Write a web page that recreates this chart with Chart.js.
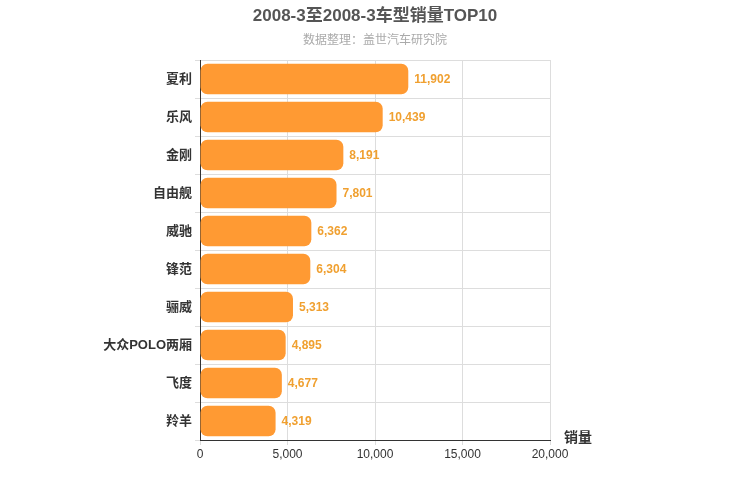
<!DOCTYPE html>
<html>
<head>
<meta charset="utf-8">
<script src="https://cdn.jsdelivr.net/npm/chart.js@4"></script>
<style>
  body { margin: 0; background: #fff; }
  #wrap { width: 750px; height: 500px; }
</style>
</head>
<body>
<div id="wrap"><canvas id="chart"></canvas></div>
<script>
const models = ['夏利', '乐风', '金刚', '自由舰', '威驰', '锋范', '骊威', '大众POLO两厢', '飞度', '羚羊'];
const sales = [11902, 10439, 8191, 7801, 6362, 6304, 5313, 4895, 4677, 4319];
const xTicks = [0, 5000, 10000, 15000, 20000];

const fontFamily = '"Helvetica Neue", Arial, "Noto Sans CJK SC", sans-serif';

// Titles centred on the canvas, value labels and axis name
const extras = {
    id: 'extras',
    afterDraw(chart) {
        const ctx = chart.ctx;
        const meta = chart.getDatasetMeta(0);
        ctx.save();
        ctx.textBaseline = 'middle';
        ctx.textAlign = 'center';
        ctx.font = 'bold 17px ' + fontFamily;
        ctx.fillStyle = '#555';
        ctx.fillText('2008-3至2008-3车型销量TOP10', chart.width / 2, 16);
        ctx.font = '12px ' + fontFamily;
        ctx.fillStyle = '#aaa';
        ctx.fillText('数据整理：盖世汽车研究院', chart.width / 2, 41);

        ctx.textAlign = 'left';
        ctx.font = 'bold 12px ' + fontFamily;
        ctx.fillStyle = '#f0a030';
        meta.data.forEach((bar, i) => {
            ctx.fillText(sales[i].toLocaleString('en-US'), bar.x + 6, bar.y + 1);
        });
        ctx.font = 'bold 14px ' + fontFamily;
        ctx.fillStyle = '#333';
        ctx.fillText('销量', chart.chartArea.right + 14, chart.chartArea.bottom - 2);
        ctx.restore();
    }
};

new Chart(document.getElementById('chart'), {
    type: 'bar',
    data: {
        labels: models,
        datasets: [{
            data: sales,
            backgroundColor: '#ff9a33',
            borderRadius: 7,
            borderSkipped: false,
            barPercentage: 0.8,
            categoryPercentage: 1
        }]
    },
    options: {
        indexAxis: 'y',
        responsive: true,
        maintainAspectRatio: false,
        animation: false,
        layout: { padding: { left: 0, right: 200, top: 60, bottom: 0 } },
        plugins: {
            legend: { display: false },
            tooltip: { enabled: false }
        },
        scales: {
            x: {
                min: 0,
                max: 20000,
                afterBuildTicks(axis) { axis.ticks = xTicks.map(v => ({ value: v })); },
                afterFit(axis) { axis.height = 60; },
                grid: { color: '#ddd', drawTicks: true, tickLength: 5 },
                border: { color: '#333' },
                ticks: {
                    color: '#333',
                    padding: 2,
                    font: { size: 12, family: fontFamily },
                    callback: v => v.toLocaleString('en-US')
                }
            },
            y: {
                afterFit(axis) { axis.width = 200; },
                grid: { color: '#ddd', offset: true, tickLength: 5 },
                border: { color: '#333' },
                ticks: {
                    color: '#333',
                    font: { size: 13, weight: 'bold', family: fontFamily }
                }
            }
        }
    },
    plugins: [extras]
});
</script>
</body>
</html>
